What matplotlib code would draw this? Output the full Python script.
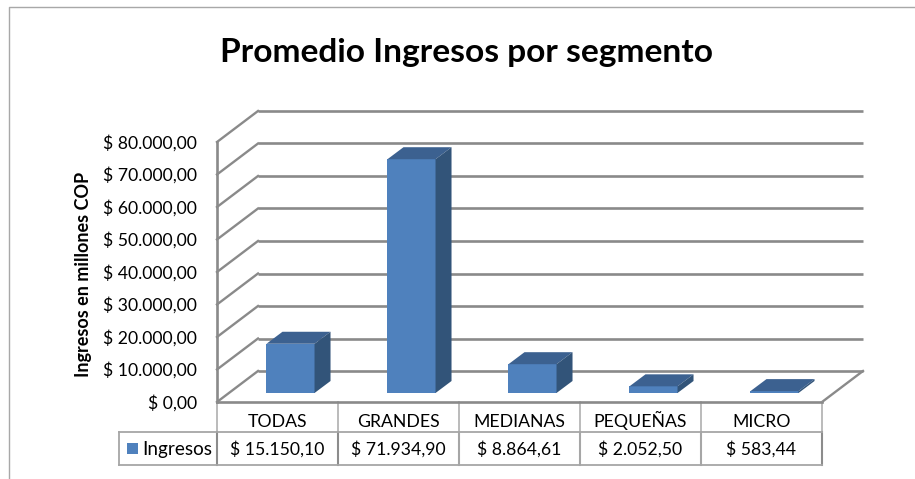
import matplotlib
matplotlib.use("Agg")
import matplotlib.pyplot as plt
from matplotlib.patches import Polygon, Rectangle
from matplotlib.lines import Line2D
from matplotlib.transforms import Affine2D, blended_transform_factory

plt.rcParams['font.family'] = ['Lato', 'DejaVu Sans']

title = "Promedio Ingresos por segmento"
ylabel = "Ingresos en millones COP"
series_name = "Ingresos"
categories = ["TODAS", "GRANDES", "MEDIANAS", "PEQUEÑAS", "MICRO"]
values = [15150.10, 71934.90, 8864.61, 2052.50, 583.44]
value_labels = ["$ 15.150,10", "$ 71.934,90", "$ 8.864,61", "$ 2.052,50", "$ 583,44"]
ticks = [0, 10000, 20000, 30000, 40000, 50000, 60000, 70000, 80000]
tick_labels = ["$ 0,00", "$ 10.000,00", "$ 20.000,00", "$ 30.000,00", "$ 40.000,00",
               "$ 50.000,00", "$ 60.000,00", "$ 70.000,00", "$ 80.000,00"]

W, H = 915, 479
fig = plt.figure(figsize=(W / 100, H / 100), dpi=100)
fig.patch.set_facecolor("white")
ax = fig.add_axes([217 / W, 1 - 402 / H, 605 / W, 260 / H])
ax.set_xlim(0, len(categories))
ax.set_ylim(0, max(ticks))
ax.axis("off")

FRONT = "#4F81BD"
TOP = "#3C6190"
SIDE = "#325479"
GRID = "#8A8A8A"
TBL = "#A6A6A6"
DX, DY = 41, 31            # depth of the floor in px
FS = 12.7


def off(dx, dy):
    return ax.transData + Affine2D().translate(dx, dy)


xpix = blended_transform_factory(ax.transData, Affine2D().scale(1, -1).translate(0, H))
n = len(categories)

# chart frame (open right/bottom)
fig.add_artist(Line2D([9 / W, 9 / W, 1], [0, 1 - 7 / H, 1 - 7 / H], color="#A8A8A8", lw=1.0))

# back wall gridlines + side wall diagonals
for t in ticks:
    ax.plot([0, n], [t, t], color=GRID, lw=1.9, transform=off(DX, DY), clip_on=False,
            solid_capstyle="butt", zorder=1)
    p0 = ax.transData.transform((0, t))
    ax.add_line(Line2D([p0[0], p0[0] + DX], [p0[1], p0[1] + DY], color=GRID, lw=1.7,
                       transform=None, clip_on=False, zorder=1))
# floor right edge
p1 = ax.transData.transform((n, 0))
ax.add_line(Line2D([p1[0], p1[0] + DX], [p1[1], p1[1] + DY], color=GRID, lw=1.7,
                   transform=None, clip_on=False, zorder=1))
# front axis lines
ax.plot([0, 0], [0, ticks[-1]], color=GRID, lw=1.9, clip_on=False, zorder=5)
ax.plot([0, n], [0, 0], color=GRID, lw=1.9, clip_on=False, zorder=5)

# 3D bars
bw = 0.397
d1x, d1y = 13, 9
d2x, d2y = 29, 21
for i, v in enumerate(values):
    x0, x1 = i + 0.5 - bw / 2, i + 0.5 + bw / 2
    f = off(d1x, d1y)
    ax.add_patch(Rectangle((x0, 0), bw, v, facecolor=FRONT, edgecolor="none",
                           transform=f, clip_on=False, zorder=3))
    a = f.transform([(x0, v), (x1, v), (x1, 0)])
    dx, dy = d2x - d1x, d2y - d1y
    ax.add_patch(Polygon([a[0], a[1], a[1] + (dx, dy), a[0] + (dx, dy)], facecolor=TOP,
                         edgecolor="none", transform=None, clip_on=False, zorder=3))
    ax.add_patch(Polygon([a[1], a[2], a[2] + (dx, dy), a[1] + (dx, dy)], facecolor=SIDE,
                         edgecolor="none", transform=None, clip_on=False, zorder=3))

# value axis labels
for t, lab in zip(ticks, tick_labels):
    ax.annotate(lab, (0, t), xytext=(-14.4, -4.7), textcoords="offset points",
                ha="right", va="baseline", fontsize=FS, color="black", annotation_clip=False)

# data table
ytop, ymid, ybot = 402, 432, 465
for i in range(n + 1):
    ax.plot([i, i], [ytop, ymid], color="#B5B5B5", lw=1.3, transform=xpix, clip_on=False)
    ax.plot([i, i], [ymid, ybot], color="#8C8C8C" if i in (0, 1, 5) else TBL, lw=1.5,
            transform=xpix, clip_on=False)
xleft = (119 - 217) / (605 / n)
ax.plot([xleft, n], [ymid, ymid], color=TBL, lw=1.3, transform=xpix, clip_on=False)
ax.plot([xleft, n], [ybot, ybot], color=TBL, lw=1.3, transform=xpix, clip_on=False)
ax.plot([xleft, xleft], [ymid, ybot], color=TBL, lw=1.3, transform=xpix, clip_on=False)
for i, (c, vl) in enumerate(zip(categories, value_labels)):
    ax.text(i + 0.5, 427, c, transform=xpix, ha="center", va="baseline", fontsize=FS, clip_on=False)
    ax.text(i + 0.5, 455, vl, transform=xpix, ha="center", va="baseline", fontsize=FS, clip_on=False)

# legend key in table
ax.add_patch(Rectangle((127 / W, 1 - 454 / H), 11 / W, 11 / H, transform=fig.transFigure,
                       facecolor=FRONT, edgecolor="none", clip_on=False))
fig.text(142 / W, 1 - 455 / H, series_name, ha="left", va="baseline", fontsize=13.6)

# titles
fig.text(466 / W, 1 - 62 / H, title, ha="center", va="baseline", fontsize=24.1, fontweight="bold")
fig.text(84 / W, 1 - 274 / H, ylabel, ha="center", va="center", rotation=90, fontsize=13,
         fontweight="bold")

fig.savefig("out.png", dpi=100)
